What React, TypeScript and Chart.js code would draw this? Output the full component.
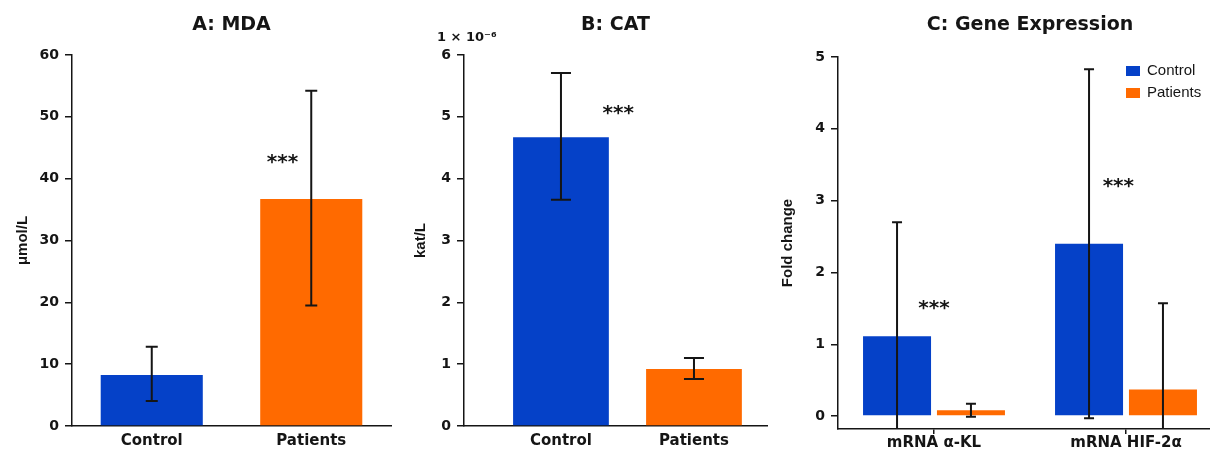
import React, { useEffect, useRef } from 'react';
import { Chart, registerables } from 'chart.js';

Chart.register(...registerables);

// ---------- colours ----------
const BLUE = '#0541c8';
const ORANGE = '#ff6a00';
const INK = '#151515';

// ---------- Panel A: MDA ----------
const mdaTitle = 'A: MDA';
const mdaLabels = ['Control', 'Patients'];
const mdaMeans = [8.25, 36.7];
const mdaLow = [4.05, 19.5];
const mdaHigh = [12.8, 54.2];
const mdaTicks = [0, 10, 20, 30, 40, 50, 60];
const mdaStars = [{ x: 0.82, y: 43.3 }];

// ---------- Panel B: CAT (×10^-6 kat/L) ----------
const catTitle = 'B: CAT';
const catLabels = ['Control', 'Patients'];
const catMeans = [4.67, 0.92];
const catLow = [3.66, 0.76];
const catHigh = [5.71, 1.1];
const catTicks = [0, 1, 2, 3, 4, 5, 6];
const catStars = [{ x: 0.43, y: 5.13 }];

// ---------- Panel C: Gene expression ----------
const geneTitle = 'C: Gene Expression';
const geneLabels = ['mRNA α-KL', 'mRNA HIF-2α'];
const geneControl = [1.11, 2.4];
const geneControlLow = [-0.48, -0.03];
const geneControlHigh = [2.7, 4.83];
const genePatients = [0.08, 0.37];
const genePatientsLow = [-0.01, -0.83];
const genePatientsHigh = [0.17, 1.57];
const geneTicks = [0, 1, 2, 3, 4, 5];
const geneStars = [
  { x: 0, y: 1.56 },
  { x: 0.96, y: 3.26 },
];

type Err = { low: number[]; high: number[] };
type Deco = {
  title: string;
  errors: Err[];
  cap: number;
  stars: { x: number; y: number }[];
  exponent?: string;
  legend?: boolean;
};

function makeDecor(d: Deco) {
  return {
    id: 'panelDecor',
    afterDatasetsDraw(chart: any) {
      const ctx = chart.ctx as CanvasRenderingContext2D;
      const area = chart.chartArea;
      const ys = chart.scales.y;
      const xs = chart.scales.x;
      ctx.save();
      ctx.strokeStyle = INK;
      ctx.lineWidth = 2;
      d.errors.forEach((e, di) => {
        const meta = chart.getDatasetMeta(di);
        meta.data.forEach((bar: any, i: number) => {
          const px = bar.x;
          const yl = ys.getPixelForValue(e.low[i]);
          const yh = ys.getPixelForValue(e.high[i]);
          const top = Math.max(yh, area.top);
          const bot = Math.min(yl, area.bottom);
          ctx.beginPath();
          ctx.moveTo(px, top);
          ctx.lineTo(px, bot);
          if (yh >= area.top) {
            ctx.moveTo(px - d.cap / 2, yh);
            ctx.lineTo(px + d.cap / 2, yh);
          }
          if (yl <= area.bottom - 1) {
            ctx.moveTo(px - d.cap / 2, yl);
            ctx.lineTo(px + d.cap / 2, yl);
          }
          ctx.stroke();
        });
      });
      // significance stars
      ctx.fillStyle = INK;
      ctx.font = 'bold 20px "DejaVu Sans"';
      ctx.textAlign = 'center';
      ctx.textBaseline = 'alphabetic';
      d.stars.forEach((s) => {
        const px = xs.getPixelForValue(s.x);
        const py = ys.getPixelForValue(s.y);
        ctx.fillText('***', px, py + 10);
      });
      // panel title
      ctx.font = 'bold 19px "DejaVu Sans"';
      ctx.textBaseline = 'middle';
      ctx.fillText(d.title, (area.left + area.right) / 2, 25);
      // axis exponent
      if (d.exponent) {
        ctx.font = 'bold 13px "DejaVu Sans"';
        ctx.textAlign = 'left';
        ctx.fillText(d.exponent, area.left - 27, 38);
      }
      // legend
      if (d.legend) {
        const lx = area.right - 96;
        chart.data.datasets.forEach((ds: any, i: number) => {
          const ly = area.top + 9 + i * 22;
          ctx.fillStyle = ds.backgroundColor;
          ctx.fillRect(lx, ly, 14, 10);
          ctx.fillStyle = INK;
          ctx.font = '15px "Liberation Sans"';
          ctx.textAlign = 'left';
          ctx.textBaseline = 'middle';
          ctx.fillText(ds.label, lx + 21, ly + 5);
        });
      }
      ctx.restore();
    },
  };
}

const tickFont = { family: 'DejaVu Sans', weight: 'bold' as const, size: 14 };
const catFont = { family: 'DejaVu Sans', weight: 'bold' as const, size: 15 };
const yTitleFont = { family: 'Liberation Sans', weight: 'bold' as const, size: 15 };

function yAxis(min: number, max: number, ticks: number[], title: string, width: number, titlePad: number) {
  return {
    min,
    max,
    afterBuildTicks: (s: any) => {
      s.ticks = ticks.map((v) => ({ value: v }));
    },
    afterFit: (s: any) => {
      s.width = width;
    },
    grid: { display: true, drawOnChartArea: false, drawTicks: true, tickLength: 7, color: INK, lineWidth: 1.5 },
    border: { display: true, color: INK, width: 1.5 },
    ticks: { font: tickFont, color: INK, padding: 6 },
    title: { display: true, text: title, font: yTitleFont, color: INK, padding: { top: titlePad, bottom: 0 } },
  };
}

function configA(): any {
  return {
    type: 'bar',
    data: {
      labels: mdaLabels,
      datasets: [
        {
          label: 'MDA',
          data: mdaMeans,
          backgroundColor: [BLUE, ORANGE],
          borderWidth: 0,
          barPercentage: 0.64,
          categoryPercentage: 1,
        },
      ],
    },
    options: {
      responsive: false,
      animation: false,
      layout: { padding: { left: 0, top: 55, right: 7, bottom: 0 } },
      plugins: { legend: { display: false }, tooltip: { enabled: false }, title: { display: false } },
      scales: {
        x: {
          grid: { display: true, drawOnChartArea: false, drawTicks: false },
          border: { display: true, color: INK, width: 1.5 },
          ticks: { font: catFont, color: INK, padding: 6 },
          afterFit: (s: any) => {
            s.height = 24;
          },
        },
        y: yAxis(0, 60, mdaTicks, 'μmol/L', 72, 14),
      },
    },
    plugins: [
      makeDecor({ title: mdaTitle, errors: [{ low: mdaLow, high: mdaHigh }], cap: 12, stars: mdaStars }),
    ],
  };
}

function configB(): any {
  return {
    type: 'bar',
    data: {
      datasets: [
        {
          label: 'CAT',
          data: catMeans.map((v, i) => ({ x: i, y: v })),
          backgroundColor: [BLUE, ORANGE],
          borderWidth: 0,
          barPercentage: 0.9,
          categoryPercentage: 0.8,
        },
      ],
    },
    options: {
      responsive: false,
      animation: false,
      layout: { padding: { left: 0, top: 55, right: 5, bottom: 0 } },
      plugins: { legend: { display: false }, tooltip: { enabled: false }, title: { display: false } },
      scales: {
        x: {
          type: 'linear',
          offset: false,
          min: -0.729,
          max: 1.549,
          afterBuildTicks: (s: any) => {
            s.ticks = catLabels.map((_, i) => ({ value: i }));
          },
          grid: { display: true, drawOnChartArea: false, drawTicks: false, offset: false },
          border: { display: true, color: INK, width: 1.5 },
          ticks: {
            font: catFont,
            color: INK,
            padding: 6,
            maxRotation: 0,
            callback: (_v: any, i: number) => catLabels[i],
          },
          afterFit: (s: any) => {
            s.height = 24;
          },
        },
        y: yAxis(0, 6, catTicks, 'kat/L', 64, 12),
      },
    },
    plugins: [
      makeDecor({
        title: catTitle,
        errors: [{ low: catLow, high: catHigh }],
        cap: 20,
        stars: catStars,
        exponent: '1 × 10⁻⁶',
      }),
    ],
  };
}

function configC(): any {
  return {
    type: 'bar',
    data: {
      labels: geneLabels,
      datasets: [
        {
          label: 'Control',
          data: geneControl,
          backgroundColor: BLUE,
          borderWidth: 0,
          barPercentage: 0.92,
          categoryPercentage: 0.77,
        },
        {
          label: 'Patients',
          data: genePatients,
          backgroundColor: ORANGE,
          borderWidth: 0,
          barPercentage: 0.92,
          categoryPercentage: 0.77,
        },
      ],
    },
    options: {
      responsive: false,
      animation: false,
      layout: { padding: { left: 0, top: 57, right: 0, bottom: 0 } },
      plugins: { legend: { display: false }, tooltip: { enabled: false }, title: { display: false } },
      scales: {
        x: {
          grid: {
            display: true,
            drawOnChartArea: false,
            drawTicks: true,
            tickLength: 5,
            offset: false,
            color: INK,
            lineWidth: 1.5,
          },
          border: { display: true, color: INK, width: 1.5 },
          ticks: { font: catFont, color: INK, padding: 0, maxRotation: 0 },
          afterFit: (s: any) => {
            s.height = 21;
          },
        },
        y: yAxis(-0.18, 5, geneTicks, 'Fold change', 63, 4),
      },
    },
    plugins: [
      makeDecor({
        title: geneTitle,
        errors: [
          { low: geneControlLow, high: geneControlHigh },
          { low: genePatientsLow, high: genePatientsHigh },
        ],
        cap: 10,
        stars: geneStars,
        legend: true,
      }),
    ],
  };
}

function Panel({ left, width, build }: { left: number; width: number; build: () => any }) {
  const ref = useRef<HTMLCanvasElement | null>(null);
  useEffect(() => {
    if (!ref.current) return;
    const chart = new Chart(ref.current, build());
    return () => chart.destroy();
  }, []);
  return (
    <div style={{ position: 'absolute', left, top: 0, width, height: 450 }}>
      <canvas ref={ref} width={width} height={450} style={{ display: 'block', width, height: 450 }} />
    </div>
  );
}

export default function App() {
  return (
    <div
      style={{
        position: 'fixed',
        left: 0,
        top: 0,
        width: 1210,
        height: 450,
        overflow: 'hidden',
        background: '#ffffff',
      }}
    >
      <Panel left={0} width={398} build={configA} />
      <Panel left={400} width={372} build={configB} />
      <Panel left={775} width={447} build={configC} />
    </div>
  );
}
